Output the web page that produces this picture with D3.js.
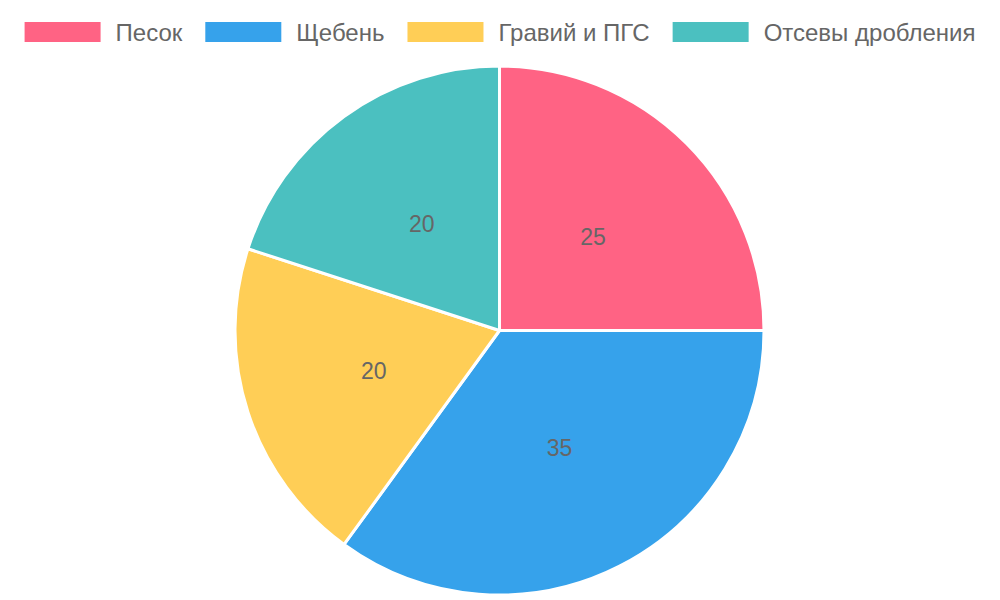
<!DOCTYPE html>
<html>
<head>
<meta charset="utf-8">
<script src="https://cdn.jsdelivr.net/npm/d3@7"></script>
<style>
  html, body { margin: 0; padding: 0; background: #fff; }
  svg { display: block; }
  text { font-family: "Liberation Sans", Arial, Helvetica, sans-serif; fill: #666; }
</style>
</head>
<body>
<svg id="chart" width="1000" height="600"></svg>
<script>
const categories = ["Песок", "Щебень", "Гравий и ПГС", "Отсевы дробления"];
const values = [25, 35, 20, 20];
const colors = ["#FF6384", "#36A2EB", "#FFCE56", "#4BC0C0"];

const svg = d3.select("#chart");
const W = 1000, H = 600;
const cx = 499.5, cy = 330.5, R = 264.5;

const data = categories.map((c, i) => ({ name: c, value: values[i], color: colors[i] }));

const pie = d3.pie().value(d => d.value).sort(null);
const arc = d3.arc().innerRadius(0).outerRadius(R);
const arcs = pie(data);

const g = svg.append("g").attr("transform", `translate(${cx},${cy})`);
g.selectAll("path").data(arcs).enter().append("path")
  .attr("d", arc)
  .attr("fill", d => d.data.color)
  .attr("stroke", "#fff")
  .attr("stroke-width", 3)
  .attr("stroke-linejoin", "bevel");

g.selectAll("text.lbl").data(arcs).enter().append("text")
  .attr("class", "lbl")
  .attr("transform", d => `translate(${arc.centroid(d)})`)
  .attr("text-anchor", "middle")
  .attr("dominant-baseline", "central")
  .style("font-size", "23px")
  .text(d => d.data.value);

// Legend
const legend = svg.append("g");
const boxW = 76, boxH = 20, gapText = 15, gapItem = 23, fs = 24, ly = 32;
const tmp = svg.append("text").style("font-size", fs + "px");
const widths = categories.map(c => { tmp.text(c); return tmp.node().getComputedTextLength(); });
tmp.remove();
const total = widths.reduce((a, w) => a + boxW + gapText + w, 0) + gapItem * (categories.length - 1);
let x = (W - total) / 2;
categories.forEach((c, i) => {
  legend.append("rect").attr("x", x).attr("y", ly - boxH / 2).attr("width", boxW).attr("height", boxH)
    .attr("fill", colors[i]);
  legend.append("text").attr("x", x + boxW + gapText).attr("y", ly)
    .attr("dominant-baseline", "central")
    .style("font-size", fs + "px")
    .text(c);
  x += boxW + gapText + widths[i] + gapItem;
});
</script>
</body>
</html>
